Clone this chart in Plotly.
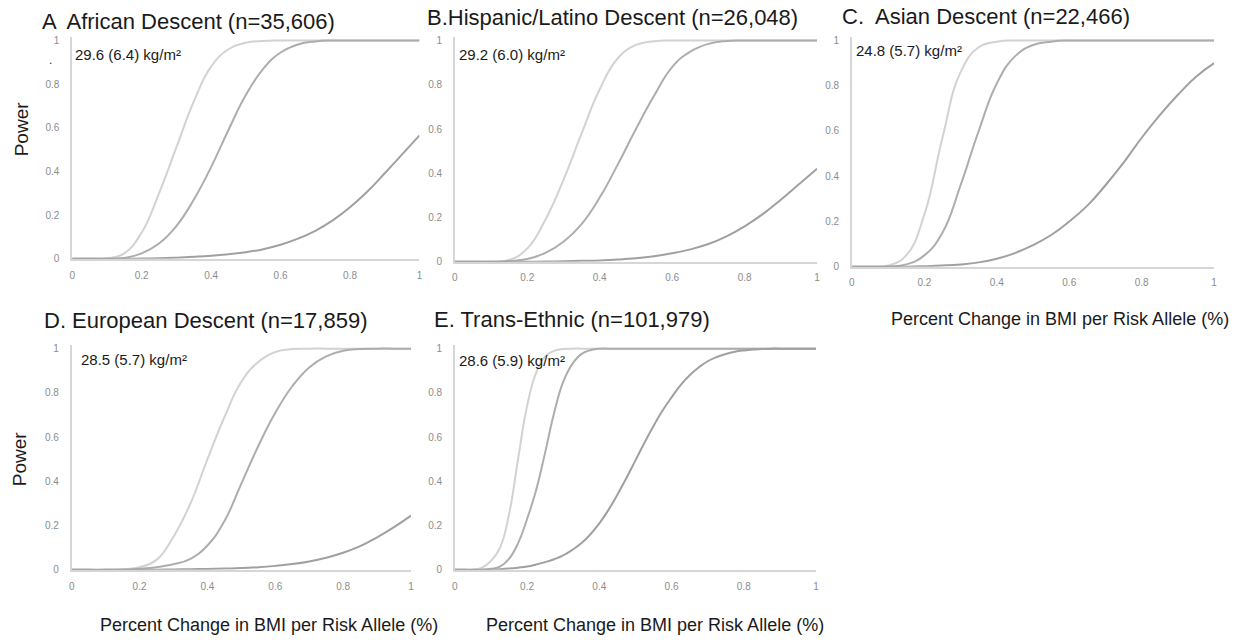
import plotly.graph_objects as go

# ---------------- data ----------------
X20 = [0, 0.05, 0.1, 0.15, 0.2, 0.25, 0.3, 0.35, 0.4, 0.45, 0.5,
       0.55, 0.6, 0.65, 0.7, 0.75, 0.8, 0.85, 0.9, 0.95, 1]
X40 = [0, 0.025, 0.05, 0.075, 0.1, 0.125, 0.15, 0.175, 0.2, 0.225, 0.25,
       0.275, 0.3, 0.325, 0.35, 0.375, 0.4, 0.425, 0.45, 0.475, 0.5,
       0.525, 0.55, 0.575, 0.6, 0.625, 0.65, 0.675, 0.7, 0.725, 0.75,
       0.775, 0.8, 0.825, 0.85, 0.875, 0.9, 0.925, 0.95, 0.975, 1]

A_light = [0, 0, 0.002, 0.025, 0.12, 0.3, 0.51, 0.72, 0.88, 0.96, 0.99, 0.998, 1, 1, 1, 1, 1, 1, 1, 1, 1]
A_mid = [0, 0, 0, 0.004, 0.025, 0.07, 0.15, 0.27, 0.42, 0.59, 0.75, 0.87, 0.945, 0.982, 0.996, 1, 1, 1, 1, 1, 1]
A_dark = [0, 0, 0, 0, 0.001, 0.002, 0.005, 0.009, 0.014, 0.021, 0.03, 0.044, 0.064, 0.092, 0.128, 0.176, 0.236, 0.308, 0.392, 0.478, 0.565]

B_light = [0, 0, 0, 0.008, 0.06, 0.19, 0.37, 0.58, 0.78, 0.92, 0.98, 0.997, 1, 1, 1, 1, 1, 1, 1, 1, 1]
B_mid = [0, 0, 0, 0.003, 0.012, 0.04, 0.09, 0.17, 0.29, 0.44, 0.6, 0.75, 0.88, 0.95, 0.985, 0.998, 1, 1, 1, 1, 1]
B_dark = [0, 0, 0, 0, 0, 0.001, 0.002, 0.004, 0.006, 0.01, 0.016, 0.025, 0.038, 0.056, 0.08, 0.115, 0.16, 0.215, 0.28, 0.35, 0.42]

C_light = [0, 0, 0.005, 0.05, 0.23, 0.57, 0.86, 0.97, 0.995, 1, 1, 1, 1, 1, 1, 1, 1, 1, 1, 1, 1]
C_mid = [0, 0, 0.001, 0.01, 0.05, 0.15, 0.36, 0.6, 0.81, 0.93, 0.98, 0.995, 1, 1, 1, 1, 1, 1, 1, 1, 1]
C_dark = [0, 0, 0, 0, 0.002, 0.005, 0.01, 0.019, 0.035, 0.06, 0.095, 0.14, 0.2, 0.27, 0.36, 0.46, 0.57, 0.67, 0.76, 0.84, 0.9]

D_light = [0, 0, 0, 0.003, 0.012, 0.045, 0.15, 0.3, 0.5, 0.69, 0.85, 0.94, 0.985, 0.998, 1, 1, 1, 1, 1, 1, 1]
D_mid = [0, 0, 0, 0.001, 0.005, 0.012, 0.025, 0.05, 0.11, 0.22, 0.39, 0.56, 0.71, 0.83, 0.915, 0.965, 0.99, 0.998, 1, 1, 1]
D_dark = [0, 0, 0, 0, 0, 0.001, 0.002, 0.003, 0.004, 0.006, 0.008, 0.012, 0.018, 0.026, 0.038, 0.055, 0.077, 0.107, 0.147, 0.193, 0.245]

E_light = [0, 0, 0, 0.01, 0.04, 0.1, 0.25, 0.5, 0.74, 0.89, 0.965, 0.99, 0.998, 1, 1, 1, 1, 1, 1, 1, 1,
           1, 1, 1, 1, 1, 1, 1, 1, 1, 1, 1, 1, 1, 1, 1, 1, 1, 1, 1, 1]
E_mid = [0, 0, 0, 0.001, 0.005, 0.015, 0.05, 0.12, 0.23, 0.36, 0.53, 0.71, 0.85, 0.93, 0.975, 0.993, 1, 1, 1, 1, 1,
         1, 1, 1, 1, 1, 1, 1, 1, 1, 1, 1, 1, 1, 1, 1, 1, 1, 1, 1, 1]
E_dark = [0, 0, 0, 0, 0.001, 0.003, 0.006, 0.01, 0.015, 0.024, 0.035, 0.048, 0.065, 0.09, 0.12, 0.16, 0.21,
          0.27, 0.34, 0.415, 0.495, 0.575, 0.65, 0.72, 0.78, 0.835, 0.88, 0.915, 0.943, 0.962, 0.976,
          0.986, 0.992, 0.996, 0.998, 1, 1, 1, 1, 1, 1]

panel_titles = ["A  African Descent (n=35,606)", "B.Hispanic/Latino Descent (n=26,048)",
                "C.  Asian Descent (n=22,466)", "D. European Descent (n=17,859)",
                "E. Trans-Ethnic (n=101,979)"]
bmi_labels = ["29.6 (6.4) kg/m²", "29.2 (6.0) kg/m²", "24.8 (5.7) kg/m²",
              "28.5 (5.7) kg/m²", "28.6 (5.9) kg/m²"]
tick_vals = [0, 0.2, 0.4, 0.6, 0.8, 1]
tick_text = ["0", "0.2", "0.4", "0.6", "0.8", "1"]
y_title = "Power"
x_title = "Percent Change in BMI per Risk Allele (%)"

panel_data = [
    (X20, [A_light, A_mid, A_dark]),
    (X20, [B_light, B_mid, B_dark]),
    (X20, [C_light, C_mid, C_dark]),
    (X20, [D_light, D_mid, D_dark]),
    (X40, [E_light, E_mid, E_dark]),
]

# ---------------- layout / style ----------------
W, H = 1246, 644
# pixel geometry: x at 0, x at 1, y at 0, y at 1
geom = [
    (69.5, 418.5, 260, 39),
    (454, 818, 263, 39),
    (853, 1217, 268, 39),
    (69, 410, 575, 351),
    (454, 817, 575, 351),
]
title_pos = [(37, 20), (424, 16), (841, 15), (39, 323), (431, 321)]
bmi_pos = [(70, 53), (456, 53), (855, 49), (76, 362), (456, 363)]
line_colors = ["#d2d2d2", "#adadad", "#a0a0a0"]
FONT = "Liberation Sans, Arial, sans-serif"
YTOP = 1.015

fig = go.Figure()
layout = dict(width=W, height=H, margin=dict(l=0, r=0, t=0, b=0),
              paper_bgcolor="white", plot_bgcolor="white", showlegend=False)
annotations = []

for i, ((xs, ys), (x0, x1, y0, y1)) in enumerate(zip(panel_data, geom)):
    n = "" if i == 0 else str(i + 1)
    ytop_px = y0 - (y0 - y1) * YTOP
    for yv, col in zip(ys, line_colors):
        fig.add_trace(go.Scatter(x=xs, y=yv, mode="lines", xaxis="x" + n, yaxis="y" + n,
                                 line=dict(color=col, width=2, shape="spline", smoothing=1.3),
                                 hoverinfo="skip"))
    layout["xaxis" + n] = dict(domain=[x0 / W, x1 / W], range=[0, 1], anchor="y" + n,
                               showgrid=False, zeroline=False, showline=True,
                               linecolor="#d6d6d6", linewidth=1.5,
                               tickvals=tick_vals, ticktext=tick_text, ticks="",
                               ticklabelstandoff=6,
                               tickfont=dict(family=FONT, size=10, color="#8c8c8c"))
    layout["yaxis" + n] = dict(domain=[1 - y0 / H, 1 - ytop_px / H], range=[0, YTOP], anchor="x" + n,
                               showgrid=False, zeroline=False, showline=True,
                               linecolor="#d6d6d6", linewidth=1.5,
                               tickvals=tick_vals, ticktext=tick_text, ticks="",
                               ticklabelstandoff=9,
                               tickfont=dict(family=FONT, size=10, color="#8c8c8c"))
    tx, ty = title_pos[i]
    annotations.append(dict(text=panel_titles[i], x=tx / W, y=1 - ty / H, xref="paper", yref="paper",
                            xanchor="left", yanchor="middle", showarrow=False,
                            font=dict(family=FONT, size=22, color="#1a1a1a")))
    bx, by = bmi_pos[i]
    annotations.append(dict(text=bmi_labels[i], x=bx / W, y=1 - by / H, xref="paper", yref="paper",
                            xanchor="left", yanchor="middle", showarrow=False,
                            font=dict(family=FONT, size=15, color="#1a1a1a")))

# stray dot in panel A
annotations.append(dict(text=".", x=44 / W, y=1 - 50 / H, xref="paper", yref="paper",
                        showarrow=False, font=dict(family=FONT, size=12, color="#333333")))

# axis titles
for (px, py) in [(18, 128), (16, 462)]:
    annotations.append(dict(text=y_title, x=px / W, y=1 - py / H, xref="paper", yref="paper",
                            textangle=-90, showarrow=False, xanchor="center", yanchor="middle",
                            font=dict(family=FONT, size=19, color="#1a1a1a")))
for (px, py) in [(1062, 321), (267, 631), (655, 631)]:
    annotations.append(dict(text=x_title, x=px / W, y=1 - py / H, xref="paper", yref="paper",
                            showarrow=False, xanchor="center", yanchor="middle",
                            font=dict(family=FONT, size=18, color="#1a1a1a")))

layout["annotations"] = annotations
fig.update_layout(**layout)
fig.write_html("out.html")
